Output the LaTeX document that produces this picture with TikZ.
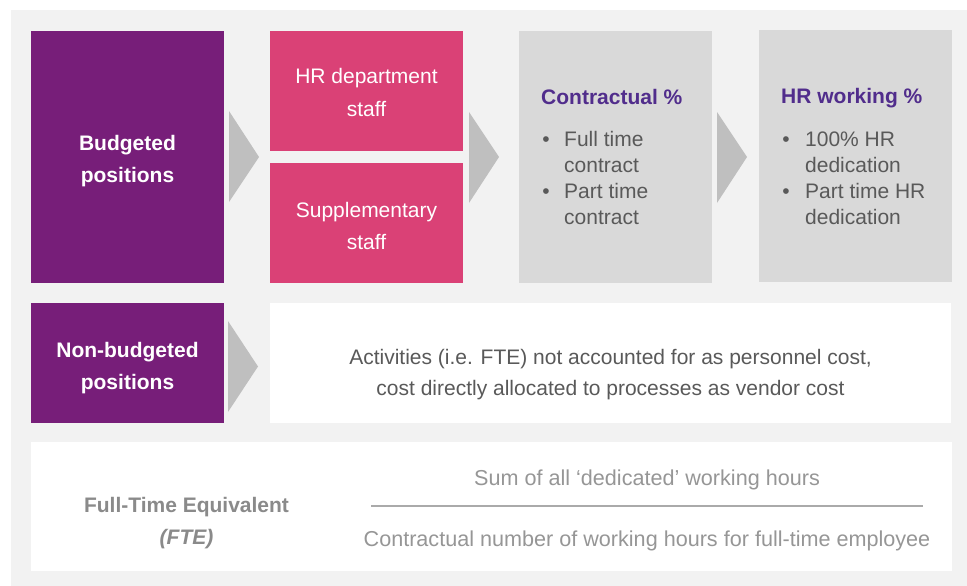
\documentclass[tikz,border=0pt]{standalone}
\usepackage{fontspec}
\setmainfont{Liberation Sans}
\usetikzlibrary{calc}

\definecolor{panelgray}{RGB}{242,242,242}
\definecolor{boxgray}{RGB}{217,217,217}
\definecolor{arrowgray}{RGB}{191,191,191}
\definecolor{plum}{RGB}{119,30,121}
\definecolor{rose}{RGB}{218,65,118}
\definecolor{headviolet}{RGB}{81,45,140}
\definecolor{ink}{RGB}{89,89,89}
\definecolor{softink}{RGB}{150,150,150}
\definecolor{fteink}{RGB}{138,138,138}
\definecolor{rulegray}{RGB}{170,170,170}

\begin{document}
\begin{tikzpicture}[x=1pt,y=-1pt,
  box/.style 2 args={anchor=north west, inner sep=0pt, outer sep=0pt,
    minimum width=#1pt, minimum height=#2pt},
  lab/.style={anchor=base, inner sep=0pt, font=\fontsize{21}{26}\selectfont},
  labw/.style={anchor=base west, inner sep=0pt, font=\fontsize{21}{26}\selectfont},
  white label/.style={lab, text=white},
  bold label/.style={lab, text=white, font=\fontsize{21}{26}\selectfont\bfseries},
  body/.style={labw, text=ink},
  head/.style={labw, text=headviolet, font=\fontsize{21}{26}\selectfont\bfseries},
  dot/.style={lab, text=ink},
  frac/.style={lab, text=softink, font=\fontsize{21.6}{26}\selectfont},
  chevron/.style={fill=arrowgray}
]
% canvas and panel
\useasboundingbox (0,0) rectangle (967,586);
\fill[white] (0,0) rectangle (967,586);
\fill[panelgray] (11,10) rectangle (967,586);

% boxes
\node[box={193}{252}, fill=plum] (budget) at (31,31) {};
\node[box={193}{120}, fill=rose] (hrdept) at (270,31) {};
\node[box={193}{120}, fill=rose] (supp) at (270,163) {};
\node[box={193}{252}, fill=boxgray] (contract) at (519,31) {};
\node[box={193}{252}, fill=boxgray] (hrwork) at (759,30) {};
\node[box={193}{120}, fill=plum] (nonbudget) at (31,303) {};
\node[box={681}{120}, fill=white] (activities) at (270,303) {};
\node[box={921}{129}, fill=white] (fte) at (31,442) {};

% chevrons between the boxes
\coordinate (split) at ($(hrdept.south east)!0.5!(supp.north east)$);
\fill[chevron] ($(budget.east)+(5,-46)$) -- ($(budget.east)+(35,0)$) -- ($(budget.east)+(5,45)$) -- cycle;
\fill[chevron] ($(split)+(6,-45)$) -- ($(split)+(36,0)$) -- ($(split)+(6,46)$) -- cycle;
\fill[chevron] ($(contract.east)+(5,-45)$) -- ($(contract.east)+(35,0)$) -- ($(contract.east)+(5,46)$) -- cycle;
\fill[chevron] ($(nonbudget.east)+(4,-42)$) -- ($(nonbudget.east)+(34,3.5)$) -- ($(nonbudget.east)+(4,49)$) -- cycle;

% purple boxes
\node[bold label] (budgetA) at (127.5,150) {Budgeted};
\node[bold label] (budgetB) at (127.5,182) {positions};
\node[bold label] (nonbudgetA) at (127.5,357) {Non-budgeted};
\node[bold label] (nonbudgetB) at (127.5,389) {positions};

% pink boxes
\node[white label] (hrdeptA) at (366.5,84) {HR department};
\node[white label] (hrdeptB) at (366.5,116) {staff};
\node[white label] (suppA) at (366.5,217) {Supplementary};
\node[white label] (suppB) at (366.5,249) {staff};

% contractual percentage
\node[head] (contractH) at (541,104) {Contractual \%};
\node[dot] (cdot1) at (546,146) {\textbullet};
\node[body] (c1) at (564,146) {Full time};
\node[body] (c2) at (564,172) {contract};
\node[dot] (cdot2) at (546,198.5) {\textbullet};
\node[body] (c3) at (564,198.5) {Part time};
\node[body] (c4) at (564,224) {contract};

% HR working percentage
\node[head] (hrworkH) at (781,103) {HR working \%};
\node[dot] (hdot1) at (786,146) {\textbullet};
\node[body] (h1) at (805,146) {100\% HR};
\node[body] (h2) at (805,172) {dedication};
\node[dot] (hdot2) at (786,198.5) {\textbullet};
\node[body] (h3) at (805,198.5) {Part time HR};
\node[body] (h4) at (805,224) {dedication};

% non-budgeted activities
\node[lab, text=ink] (actA) at (610.5,364) {Activities (i.e. FTE) not accounted for as personnel cost,};
\node[lab, text=ink] (actB) at (610.5,395.5) {cost directly allocated to processes as vendor cost};

% full-time equivalent definition
\node[lab, text=fteink, font=\fontsize{21}{26}\selectfont\bfseries] (fteA) at (186.5,512) {Full-Time Equivalent};
\node[lab, text=fteink, font=\fontsize{21}{26}\selectfont\bfseries\itshape] (fteB) at (186.5,544) {(FTE)};
\node[frac] (num) at (647,485) {Sum of all ‘dedicated’ working hours};
\node[frac] (den) at (647,546) {Contractual number of working hours for full-time employee};
\coordinate (barL) at (371,506);
\coordinate (barR) at (923,506);
\draw[rulegray, line width=1.2pt] (barL) -- (barR);
\end{tikzpicture}
\end{document}
